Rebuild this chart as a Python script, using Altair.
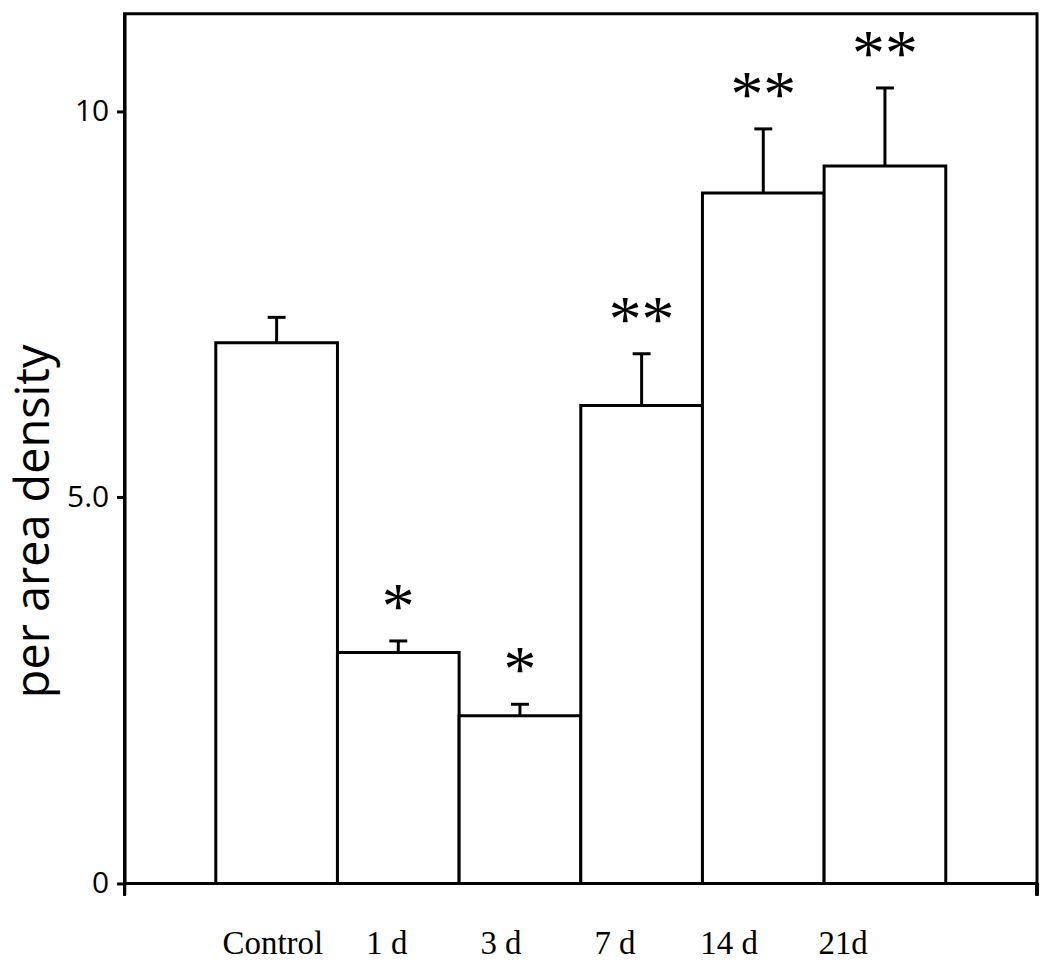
import altair as alt
import pandas as pd

categories = ["Control", "1 d", "3 d", "7 d", "14 d", "21d"]
means = [7.00, 2.99, 2.17, 6.19, 8.94, 9.29]
upper = [7.33, 3.14, 2.32, 6.86, 9.77, 10.30]
stars = ["", "*", "*", "**", "**", "**"]
y_ticks = [0, 5, 10]

df = pd.DataFrame({"group": categories, "mean": means, "upper": upper, "star": stars})

W, H = 916, 873

bar_scale = alt.Scale(type="band", paddingInner=0, paddingOuter=0.75)


def xbar(**kw):
    return alt.X("group:N", sort=categories, axis=None, scale=bar_scale, **kw)


yscale = alt.Scale(domain=[0, 11.26], nice=False, zero=True)
yax = alt.Axis(values=y_ticks, format="d",
               labelExpr="datum.value == 5 ? '5.0' : datum.label",
               title="per area density", grid=False,
               domainColor="black", domainWidth=3,
               tickColor="black", tickWidth=3, tickSize=8,
               labelFont="Open Sans", labelFontSize=30, labelColor="black",
               labelPadding=8,
               titleFont="Open Sans", titleFontSize=47, titleFontWeight="normal",
               titleColor="black", titleAngle=270, titleAlign="center",
               titleBaseline="bottom", titleX=-66, titleY=509)

bars = alt.Chart(df).mark_bar(fill="white", stroke="black", strokeWidth=3).encode(
    x=xbar(), y=alt.Y("mean:Q", scale=yscale, axis=yax))
err = alt.Chart(df).mark_rule(stroke="black", strokeWidth=3).encode(
    x=xbar(bandPosition=0.5), y="mean:Q", y2="upper:Q")
caps = alt.Chart(df).mark_tick(color="black", thickness=3, size=18,
                               orient="horizontal", opacity=1).encode(
    x=xbar(), y="upper:Q")
star_txt = alt.Chart(df).mark_text(font="Liberation Serif", fontSize=66,
                                   baseline="alphabetic", dy=-13, color="black").encode(
    x=xbar(bandPosition=0.5), y="upper:Q", text="star:N")

labels = alt.Chart(df).mark_point(opacity=0).encode(
    x=alt.X("group:N", sort=categories,
            scale=alt.Scale(type="band", paddingInner=0, paddingOuter=1, align=0.4),
            axis=alt.Axis(title=None, domain=False, ticks=False, orient="bottom",
                          labelFont="Liberation Serif", labelFontSize=33,
                          labelBaseline="alphabetic",
                          labelColor="black", labelPadding=70, labelAngle=0)))

edge_ticks = alt.layer(
    alt.Chart(df).mark_rule(color="black", strokeWidth=3).encode(
        x=alt.value(0), y=alt.value(H), y2=alt.value(H + 12)),
    alt.Chart(df).mark_rule(color="black", strokeWidth=3).encode(
        x=alt.value(W), y=alt.value(H), y2=alt.value(H + 12)),
)

chart = alt.layer(bars, err, caps, star_txt, labels, edge_ticks).resolve_scale(
    x="independent"
).properties(
    width=W, height=H,
    autosize=alt.AutoSizeParams(type="none"),
    padding={"left": 117, "top": 4, "right": 5, "bottom": 78},
    background="white",
).configure_view(stroke="black", strokeWidth=3)

chart.save("out.html", embed_options={"renderer": "svg", "actions": False})
